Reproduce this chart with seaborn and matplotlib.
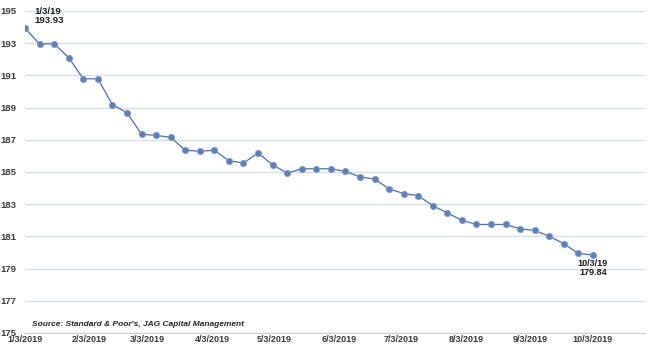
import numpy as np
import pandas as pd
import matplotlib
matplotlib.use("Agg")
import matplotlib.pyplot as plt
import matplotlib.transforms as mtransforms
import seaborn as sns

# Data (weekly, 1/3/2019 .. 10/3/2019)
start_date = "2019-01-03"
n_weeks = 40
eps_values = [193.93, 192.95, 192.97, 192.10, 190.79, 190.79, 189.19, 188.68,
              187.35, 187.27, 187.16, 186.35, 186.29, 186.35, 185.70, 185.56,
              186.18, 185.45, 184.93, 185.20, 185.20, 185.20, 185.04, 184.69,
              184.57, 183.95, 183.66, 183.53, 182.91, 182.46, 182.00, 181.74,
              181.74, 181.74, 181.47, 181.37, 181.01, 180.54, 179.94, 179.84]
yticks = [175, 177, 179, 181, 183, 185, 187, 189, 191, 193, 195]
xtick_dates = ["2019-01-03", "2019-02-03", "2019-03-03", "2019-04-03", "2019-05-03",
               "2019-06-03", "2019-07-03", "2019-08-03", "2019-09-03", "2019-10-03"]
xtick_labels = ["1/3/2019", "2/3/2019", "3/3/2019", "4/3/2019", "5/3/2019",
                "6/3/2019", "7/3/2019", "8/3/2019", "9/3/2019", "10/3/2019"]
first_label = "1/3/19\n193.93"
last_label = "10/3/19\n179.84"
source_text = "Source: Standard & Poor's, JAG Capital Management"

dates = pd.date_range(start_date, periods=n_weeks, freq="7D")
df = pd.DataFrame({"date": dates, "eps": eps_values})

sns.set_style("white")
plt.rcParams["font.family"] = ["Liberation Sans", "DejaVu Sans"]

fig = plt.figure(figsize=(6.5, 3.46), dpi=100)
ax = fig.add_axes([25/650, 13/346, 620/650, 322/346])

sns.lineplot(data=df, x="date", y="eps", ax=ax, color="#4472c4", linewidth=0.9,
             marker="o", markersize=4.5, markerfacecolor="#5b7fbf",
             markeredgecolor="#8a9bb8", markeredgewidth=0.6, zorder=3)

ax.set_ylim(175, 195)
ax.set_yticks(yticks)
ax.set_yticklabels([str(v) for v in yticks], fontsize=6.8, color="#3a3a3a",
                   fontweight="bold")
shift_up = mtransforms.ScaledTranslation(0, 2/100, fig.dpi_scale_trans)
for lbl in ax.get_yticklabels():
    lbl.set_horizontalalignment("left")
    lbl.set_transform(lbl.get_transform() + shift_up)
ax.tick_params(axis="y", length=0, pad=18)

xt = pd.to_datetime(xtick_dates)
ax.set_xticks(xt)
ax.set_xticklabels(xtick_labels, fontsize=6.5, color="#3a3a3a", fontweight="bold")
ax.tick_params(axis="x", length=3, direction="in", color="#bfbfbf", pad=1.5)
ax.set_xlim(pd.Timestamp("2019-01-03"), pd.Timestamp("2019-10-28"))

ax.grid(axis="y", color="#d6dfea", linewidth=1.0)
ax.set_axisbelow(True)
for s in ["top", "right", "left"]:
    ax.spines[s].set_visible(False)
ax.spines["bottom"].set_color("#d0d0d0")
ax.spines["bottom"].set_linewidth(0.8)
ax.set_xlabel("")
ax.set_ylabel("")

ax.annotate(first_label, xy=(df["date"].iloc[0], df["eps"].iloc[0]),
            xytext=(7, 2), textcoords="offset points", fontsize=6.8,
            fontweight="bold", color="#1a1a1a", ha="left", va="bottom",
            linespacing=1.0)
ax.annotate(last_label, xy=(df["date"].iloc[-1], df["eps"].iloc[-1]),
            xytext=(0, -3), textcoords="offset points", fontsize=6.5,
            fontweight="bold", color="#1a1a1a", ha="center", va="top",
            linespacing=1.0)
fig.text(32/650, 1 - 324/346, source_text,
         fontsize=6, fontstyle="italic", fontweight="bold", color="#262626",
         ha="left", va="center")

fig.savefig("out.png", dpi=100)
